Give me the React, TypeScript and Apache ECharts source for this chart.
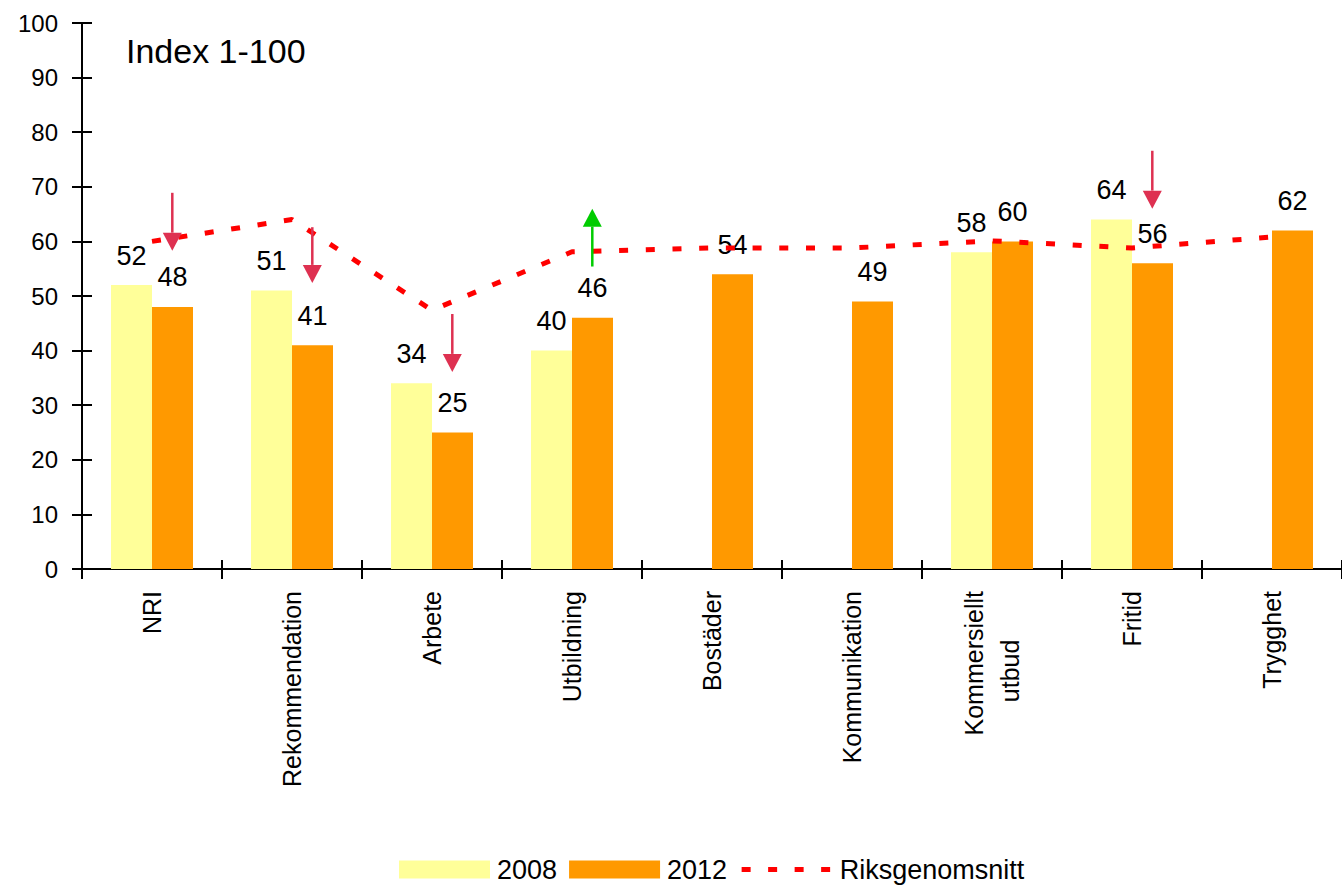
import React, { useEffect, useRef } from "react";
import * as echarts from "echarts";

const categories = [
  "NRI",
  "Rekommendation",
  "Arbete",
  "Utbildning",
  "Bostäder",
  "Kommunikation",
  "Kommersiellt\nutbud",
  "Fritid",
  "Trygghet",
];
const values2008 = [52, 51, 34, 40, null, null, 58, 64, null];
const values2012 = [48, 41, 25, 46, 54, 49, 60, 56, 62];
const riksgenomsnitt = [60, 64, 47.4, 58.1, 58.8, 58.8, 60.1, 58.8, 60.8];
const yTicks = [0, 10, 20, 30, 40, 50, 60, 70, 80, 90, 100];

// change arrows: category index, start value, end value, colour
const arrowCategory = [0, 1, 2, 3, 7];
const arrowStart = [68.9, 62.6, 46.7, 55.4, 76.6];
const arrowEnd = [58.3, 52.4, 36.1, 66.0, 66.0];
const arrowColor = ["#DE3151", "#DE3151", "#DE3151", "#00CC00", "#DE3151"];

const FONT = "'Liberation Sans', Arial, Helvetica, sans-serif";
const NBSP = "\u00a0";

export default function App() {
  const ref = useRef<HTMLDivElement>(null);
  useEffect(() => {
    if (!ref.current) return;
    const chart = echarts.init(ref.current, null, { renderer: "svg" });
    const arrowData = arrowCategory.map((c, i) => [c, arrowStart[i], arrowEnd[i], i]);
    const grid = { left: 82, top: 23, width: 1269, height: 546 };
    const option: any = {
      animation: false,
      backgroundColor: "#ffffff",
      textStyle: { fontFamily: FONT },
      title: {
        text: "Index 1-100",
        left: 121,
        top: 29,
        textStyle: { fontFamily: FONT, fontSize: 34, fontWeight: "normal", color: "#000" },
      },
      grid,
      legend: {
        left: 394,
        top: 851,
        itemWidth: 91,
        itemHeight: 18,
        itemGap: 12,
        textStyle: { fontFamily: FONT, fontSize: 27, color: "#000", padding: [0, 0, 0, 2] },
        data: [
          { name: "2008", icon: "rect" },
          { name: "2012", icon: "rect" },
          {
            name: "Riksgenomsnitt",
            lineStyle: { color: "#FF0000", width: 5, type: [9, 17.5] },
            itemStyle: { opacity: 0, color: "rgba(0,0,0,0)", borderWidth: 0 },
          },
        ],
      },
      xAxis: [
        {
          type: "category",
          data: categories,
          boundaryGap: true,
          axisLine: { lineStyle: { color: "#000", width: 2 } },
          axisTick: { show: true, length: 10, lineStyle: { color: "#000", width: 2 } },
          axisLabel: {
            interval: 0,
            rotate: 90,
            margin: 22,
            fontSize: 25,
            lineHeight: 36,
            color: "#000",
            fontFamily: FONT,
            formatter: (v: string) => {
              if (v.indexOf("\n") < 0) return v;
              const parts = v.split("\n");
              return parts[0] + "\n" + parts[1] + NBSP.repeat(7);
            },
          },
          splitLine: { show: false },
        },
        {
          type: "category",
          data: categories,
          position: "bottom",
          boundaryGap: true,
          axisLine: { show: false },
          axisTick: { show: true, inside: true, length: 9, lineStyle: { color: "#000", width: 2 } },
          axisLabel: { show: false },
          splitLine: { show: false },
        },
      ],
      yAxis: [
        {
          type: "value",
          min: 0,
          max: 100,
          interval: 10,
          axisLine: { show: true, lineStyle: { color: "#000", width: 2 } },
          axisTick: { show: true, length: 10, lineStyle: { color: "#000", width: 2 } },
          axisLabel: {
            margin: 24,
            fontSize: 24,
            color: "#000",
            fontFamily: FONT,
            formatter: (v: number) => (yTicks.indexOf(v) >= 0 ? String(v) : ""),
          },
          splitLine: { show: false },
        },
        {
          type: "value",
          min: 0,
          max: 100,
          interval: 10,
          position: "left",
          axisLine: { show: false },
          axisTick: { show: true, inside: true, length: 10, lineStyle: { color: "#000", width: 2 } },
          axisLabel: { show: false },
          splitLine: { show: false },
        },
      ],
      series: [
        {
          name: "2008",
          type: "bar",
          data: values2008,
          barWidth: 41,
          barGap: 0,
          itemStyle: { color: "#FFFF99" },
          label: {
            show: true,
            position: "top",
            distance: 16,
            fontSize: 27,
            color: "#000",
            fontFamily: FONT,
          },
        },
        {
          name: "2012",
          type: "bar",
          data: values2012,
          barWidth: 41,
          barGap: 0,
          itemStyle: { color: "#FF9900" },
          label: {
            show: true,
            position: "top",
            distance: 16,
            fontSize: 27,
            color: "#000",
            fontFamily: FONT,
          },
        },
        {
          name: "Riksgenomsnitt",
          type: "line",
          data: riksgenomsnitt,
          symbol: "none",
          z: 5,
          lineStyle: { color: "#FF0000", width: 5, type: [9, 17.7] },
          itemStyle: { color: "#FF0000" },
        },
        {
          name: "arrows",
          type: "custom",
          z: 6,
          data: arrowData,
          encode: { x: 0, y: [1, 2] },
          renderItem: (params: any, api: any) => {
            const c = api.value(0);
            const p0 = api.coord([c, api.value(1)]);
            const p1 = api.coord([c, api.value(2)]);
            const color = arrowColor[api.value(3)];
            const off = api.size([1, 0])[0] * 0.145;
            const x = p0[0] + off;
            const dir = p1[1] > p0[1] ? 1 : -1;
            const headLen = 18;
            const headHalf = 9.5;
            const baseY = p1[1] - dir * headLen;
            return {
              type: "group",
              children: [
                {
                  type: "line",
                  shape: { x1: x, y1: p0[1], x2: x, y2: baseY },
                  style: { stroke: color, lineWidth: 2.5 },
                },
                {
                  type: "polygon",
                  shape: {
                    points: [
                      [x - headHalf, baseY],
                      [x + headHalf, baseY],
                      [x, p1[1]],
                    ],
                  },
                  style: { fill: color },
                },
              ],
            };
          },
        },
      ],
    };
    chart.setOption(option);
    return () => chart.dispose();
  }, []);
  return (
    <div
      ref={ref}
      style={{ position: "fixed", left: 0, top: 0, width: 1342, height: 885, background: "#fff" }}
    />
  );
}
